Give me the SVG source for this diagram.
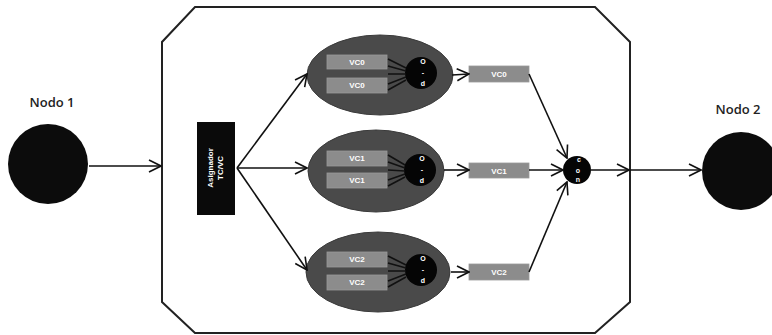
<svg xmlns="http://www.w3.org/2000/svg" width="772" height="335" viewBox="0 0 772 335">
<defs>
<marker id="arr" markerWidth="14" markerHeight="14" refX="13" refY="7" orient="auto" markerUnits="userSpaceOnUse">
<path d="M1,1 L13,7 L1,13" fill="none" stroke="#111" stroke-width="1.6"/>
</marker>
<style>
.lbl{font-family:"Open Sans","Liberation Sans",Arial,sans-serif;font-size:13px;fill:#222;font-weight:600}
.ell{fill:#4a4a4a;stroke:#3a3a3a;stroke-width:1}
.vc{fill:#8c8c8c;stroke:#9a9a9a;stroke-width:0.8}
.vct{font-family:"Liberation Sans",Arial,sans-serif;font-size:8px;fill:#fff;font-weight:bold;text-anchor:middle}
.sm{font-family:"Liberation Sans",Arial,sans-serif;font-size:7px;fill:#fff;font-weight:bold;text-anchor:middle}
.ln{stroke:#111;stroke-width:1.6;fill:none}
.fan{stroke:#111;stroke-width:1.6;fill:none}
</style>
</defs>
<rect width="772" height="335" fill="#fff"/>
<g id="container">
<polygon points="195,7 595,7 630,42 630,302 595,333 195,333 162,302 162,42" fill="none" stroke="#222" stroke-width="2"/>
</g>
<g id="nodo1">
<circle cx="48" cy="164" r="40" fill="#0c0c0c"/>
<text class="lbl" x="52" y="107" text-anchor="middle">Nodo 1</text>
</g>
<g id="nodo2">
<circle cx="741" cy="171" r="39" fill="#0c0c0c"/>
<text class="lbl" x="738" y="114" text-anchor="middle">Nodo 2</text>
</g>
<g id="asignador">
<rect x="197" y="122" width="38" height="93" fill="#0a0a0a"/>
<text class="sm" transform="translate(213,168) rotate(-90)" style="font-size:8px">Asignador</text>
<text class="sm" transform="translate(223,168) rotate(-90)" style="font-size:8px">TC/VC</text>
</g>
<g id="grupo0">
<ellipse class="ell" cx="380" cy="75" rx="73" ry="40"/>
<rect class="vc" x="327" y="55" width="60" height="14"/>
<text class="vct" x="357" y="65">VC0</text>
<rect class="vc" x="327" y="78" width="60" height="15"/>
<text class="vct" x="357" y="88">VC0</text>
<circle cx="421" cy="73" r="16" fill="#050505"/>
<text class="sm" x="423" y="64">O</text>
<text class="sm" x="423" y="75">-</text>
<text class="sm" x="423" y="86">d</text>
</g>
<g id="grupo1">
<ellipse class="ell" cx="376" cy="171" rx="68" ry="41"/>
<rect class="vc" x="327" y="151" width="60" height="15"/>
<text class="vct" x="357" y="161">VC1</text>
<rect class="vc" x="327" y="173" width="60" height="15"/>
<text class="vct" x="357" y="183">VC1</text>
<circle cx="420" cy="170" r="16" fill="#050505"/>
<text class="sm" x="422" y="161">O</text>
<text class="sm" x="422" y="172">-</text>
<text class="sm" x="422" y="183">d</text>
</g>
<g id="grupo2">
<ellipse class="ell" cx="378" cy="272" rx="72" ry="40"/>
<rect class="vc" x="327" y="252" width="60" height="15"/>
<text class="vct" x="357" y="262">VC2</text>
<rect class="vc" x="327" y="275" width="60" height="15"/>
<text class="vct" x="357" y="285">VC2</text>
<circle cx="421" cy="270" r="16" fill="#050505"/>
<text class="sm" x="423" y="261">O</text>
<text class="sm" x="423" y="272">-</text>
<text class="sm" x="423" y="283">d</text>
</g>
<g id="salida0">
<rect class="vc" x="469" y="66" width="60" height="16"/>
<text class="vct" x="499" y="77">VC0</text>
</g>
<g id="salida1">
<rect class="vc" x="469" y="163" width="60" height="15"/>
<text class="vct" x="499" y="174">VC1</text>
</g>
<g id="salida2">
<rect class="vc" x="469" y="264" width="60" height="16"/>
<text class="vct" x="499" y="275">VC2</text>
</g>
<g id="colector">
<circle cx="577" cy="170" r="14" fill="#050505"/>
<text class="sm" x="579" y="162">c</text>
<text class="sm" x="578" y="173">o</text>
<text class="sm" x="578" y="182">n</text>
</g>
<g id="connectors">
<line class="ln" x1="89" y1="166" x2="161" y2="166" marker-end="url(#arr)"/>
<line class="ln" x1="237" y1="168" x2="307" y2="74" marker-end="url(#arr)"/>
<line class="ln" x1="237" y1="168" x2="307" y2="168" marker-end="url(#arr)"/>
<line class="ln" x1="237" y1="168" x2="307" y2="270" marker-end="url(#arr)"/>
<path class="fan" d="M388,59 L406,68 M388,66 L406,71 M388,74 L406,74 M388,84 L406,77 M388,90 L406,80"/>
<path class="fan" d="M388,155 L405,165 M388,162 L405,168 M388,170 L405,171 M388,180 L405,174 M388,186 L405,177"/>
<path class="fan" d="M388,256 L406,265 M388,263 L406,268 M388,271 L406,271 M388,281 L406,274 M388,287 L406,277"/>
<line class="ln" x1="452" y1="75" x2="469" y2="74" marker-end="url(#arr)"/>
<line class="ln" x1="444" y1="170" x2="469" y2="170" marker-end="url(#arr)"/>
<line class="ln" x1="451" y1="272" x2="469" y2="272" marker-end="url(#arr)"/>
<line class="ln" x1="529" y1="74" x2="567" y2="158" marker-end="url(#arr)"/>
<line class="ln" x1="529" y1="170" x2="563" y2="170" marker-end="url(#arr)"/>
<line class="ln" x1="529" y1="272" x2="567" y2="182" marker-end="url(#arr)"/>
<line class="ln" x1="591" y1="170" x2="629" y2="170" marker-end="url(#arr)"/>
<line class="ln" x1="630" y1="170" x2="701" y2="170" marker-end="url(#arr)"/>
</g>
</svg>
